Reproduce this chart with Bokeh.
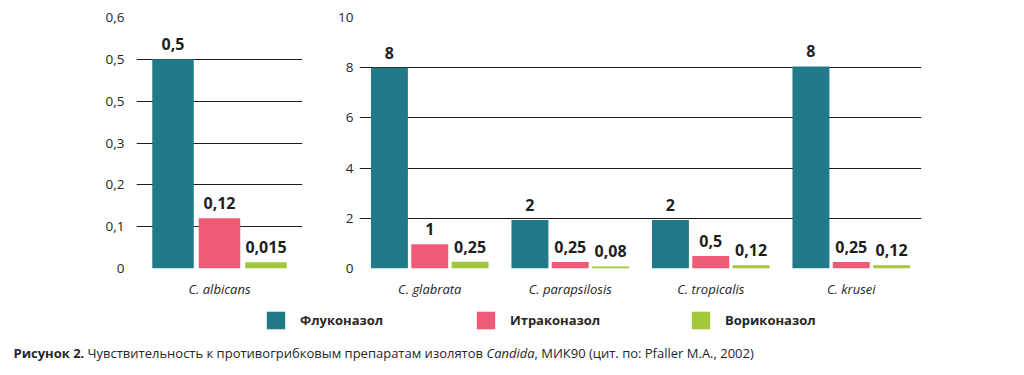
from bokeh.plotting import figure
from bokeh.models import (FactorRange, Range1d, ColumnDataSource, FixedTicker,
                          LabelSet, Legend, LegendItem, Label)
from bokeh.transform import dodge
from bokeh.core.properties import value
from bokeh.layouts import column, row
from bokeh.embed import file_html
from bokeh.resources import INLINE

# ---- data ----
drugs = ["Флуконазол", "Итраконазол", "Вориконазол"]
colors = ["#217a87", "#ef5b77", "#a2c83a"]

left_cats = ["C. albicans"]
left_flu = [0.5]
left_itra = [0.12]
left_vori = [0.015]
left_flu_lbl = ["0,5"]
left_itra_lbl = ["0,12"]
left_vori_lbl = ["0,015"]
left_ticks = [0, 0.1, 0.2, 0.3, 0.4, 0.5, 0.6]
left_tick_labels = ["0", "0,1", "0,2", "0,3", "0,5", "0,5", "0,6"]

right_cats = ["C. glabrata", "C. parapsilosis", "C. tropicalis", "C. krusei"]
right_flu = [8, 1.93, 1.93, 8.05]
right_itra = [0.97, 0.26, 0.5, 0.26]
right_vori = [0.27, 0.08, 0.13, 0.13]
right_flu_lbl = ["8", "2", "2", "8"]
right_itra_lbl = ["1", "0,25", "0,5", "0,25"]
right_vori_lbl = ["0,25", "0,08", "0,12", "0,12"]
right_ticks = [0, 2, 4, 6, 8, 10]
right_tick_labels = ["0", "2", "4", "6", "8", "10"]

caption_bold = "Рисунок 2."
caption_main = "Чувствительность к противогрибковым препаратам изолятов"
caption_italic = "Candida"
caption_tail = ", МИК90 (цит. по: Pfaller M.A., 2002)"

FONT = "Open Sans"
TXT = "#262626"
GRID = "#1f1f1f"


def panel(cats, flu, itra, vori, lbls, ticks, tick_labels, yend,
          width, height, bl, br, offset, bw, standoff):
    src = ColumnDataSource(dict(cat=cats, flu=flu, itra=itra, vori=vori,
                                flu_l=lbls[0], itra_l=lbls[1], vori_l=lbls[2]))
    xr = FactorRange(*cats, range_padding=0)
    p = figure(x_range=xr, y_range=Range1d(0, yend), width=width, height=height,
               min_border_left=bl, min_border_right=br, min_border_top=17,
               min_border_bottom=30, output_backend="svg", toolbar_location=None)
    for col, off, c, lc in zip(["flu", "itra", "vori"], [-offset, 0, offset], colors,
                               ["flu_l", "itra_l", "vori_l"]):
        p.vbar(x=dodge("cat", off, range=xr), top=col, width=bw, source=src,
               fill_color=c, line_color=None)
        p.add_layout(LabelSet(x=dodge("cat", off, range=xr), y=col, text=lc, source=src,
                              text_align="center", text_baseline="alphabetic",
                              y_offset=9, text_font=value(FONT), text_font_size="16px",
                              text_font_style="bold", text_color="#1e1e1e"))
    p.outline_line_color = None
    p.xgrid.grid_line_color = None
    p.ygrid.grid_line_color = GRID
    p.ygrid.grid_line_width = 1
    p.ygrid.ticker = FixedTicker(ticks=ticks)
    p.yaxis.ticker = FixedTicker(ticks=ticks)
    p.yaxis.major_label_overrides = {t: l for t, l in zip(ticks, tick_labels)}
    for ax in (p.xaxis, p.yaxis):
        ax.axis_line_color = None
        ax.major_tick_line_color = None
        ax.minor_tick_line_color = None
        ax.major_tick_in = 0
        ax.major_tick_out = 0
        ax.major_label_text_font = FONT
        ax.major_label_text_font_size = "13px"
        ax.major_label_text_color = TXT
    p.yaxis.major_label_text_font_size = "13.5px"
    p.yaxis.major_label_standoff = standoff
    p.xaxis.major_label_standoff = 11
    p.xaxis.major_label_text_font_style = "italic"
    return p


p1 = panel(left_cats, left_flu, left_itra, left_vori,
           [left_flu_lbl, left_itra_lbl, left_vori_lbl], left_ticks, left_tick_labels,
           0.6, 312, 300, 136, 10, 0.28, 0.25, 12)
p2 = panel(right_cats, right_flu, right_itra, right_vori,
           [right_flu_lbl, right_itra_lbl, right_vori_lbl], right_ticks, right_tick_labels,
           10, 619, 300, 47, 10, 0.287, 0.263, 6)

# ---- legend + caption strip ----
p3 = figure(width=1008, height=75, x_range=Range1d(0, 1), y_range=Range1d(0, 1),
            min_border=0, output_backend="svg", toolbar_location=None)
p3.axis.visible = False
p3.grid.visible = False
p3.outline_line_color = None
legend_x = [264, 474, 689]
for name, c, lx in zip(drugs, colors, legend_x):
    # zero-height placeholder bar: only supplies the legend swatch
    r = p3.vbar(x=[0.5], top=[0], width=0.01, fill_color=c, line_color=None)
    lg = Legend(items=[LegendItem(label=name, renderers=[r])], location=(lx, 44),
                orientation="horizontal", glyph_width=23, glyph_height=22,
                label_standoff=13, padding=0, margin=0, border_line_color=None,
                background_fill_alpha=0, label_text_font=FONT,
                label_text_font_size="13px", label_text_font_style="bold",
                label_text_color=TXT, label_height=22)
    p3.add_layout(lg, "center")

cap_y = 23
for txt, xs, style in [(caption_bold, 13, "bold"), (caption_main, 87, "normal"),
                       (caption_italic, 486, "italic"), (caption_tail, 534, "normal")]:
    p3.add_layout(Label(x=xs, y=cap_y, x_units="screen", y_units="screen", text=txt,
                        text_font=FONT, text_font_size="13px", text_font_style=style,
                        text_color=TXT, text_baseline="middle"))

layout = column(row(p1, p2), p3)
open("out.html", "w").write(file_html(layout, INLINE))
